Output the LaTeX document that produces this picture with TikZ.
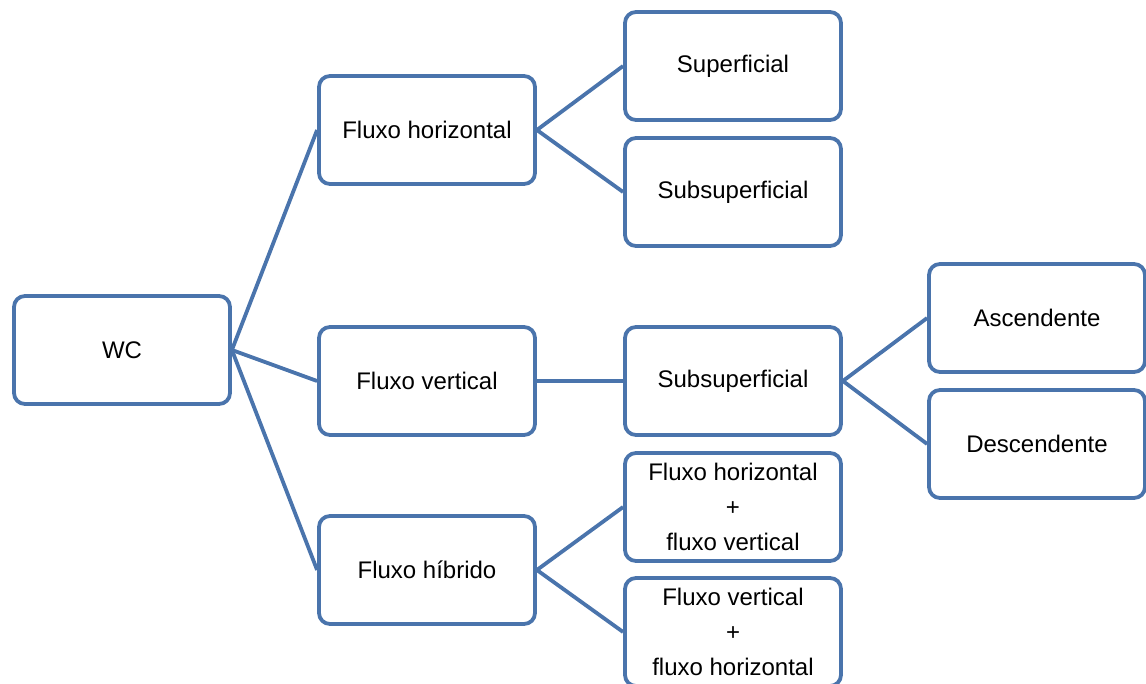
\documentclass[tikz,border=0pt]{standalone}
\usepackage{fontspec}
\setmainfont{Liberation Sans}
\usepackage{xcolor}
\usepackage{tikz}

\definecolor{boxblue}{HTML}{4A74AC}

\begin{document}
\begin{tikzpicture}[x=1pt, y=-1pt,
        box/.style={draw=boxblue, line width=3.8pt, rounded corners=11pt, fill=white, minimum width=216pt, minimum height=108pt, align=center, font=\fontsize{24}{35}\selectfont},
        link/.style={draw=boxblue, line width=3.8pt}
    ]
        \useasboundingbox (0,0) rectangle (1146,684);

        \node[box] (wc) at (122,350) {WC};

        \node[box] (fhor) at (427,130) {Fluxo horizontal};
        \node[box] (fver) at (427,381) {Fluxo vertical};
        \node[box] (fhib) at (427,570) {Fluxo híbrido};

        \node[box] (sup) at (733,66) {Superficial};
        \node[box] (subtop) at (733,192) {Subsuperficial};
        \node[box] (submid) at (733,381) {Subsuperficial};
        \node[box] (hv) at (733,507) {Fluxo horizontal\\+\\fluxo vertical};
        \node[box] (vh) at (733,632) {Fluxo vertical\\+\\fluxo horizontal};

        \node[box] (asc) at (1037,318) {Ascendente};
        \node[box] (desc) at (1037,444) {Descendente};

        \draw[link] (wc.east) -- (fhor.west);
        \draw[link] (wc.east) -- (fver.west);
        \draw[link] (wc.east) -- (fhib.west);

        \draw[link] (fhor.east) -- (sup.west);
        \draw[link] (fhor.east) -- (subtop.west);
        \draw[link] (fver.east) -- (submid.west);
        \draw[link] (fhib.east) -- (hv.west);
        \draw[link] (fhib.east) -- (vh.west);

        \draw[link] (submid.east) -- (asc.west);
        \draw[link] (submid.east) -- (desc.west);
    \end{tikzpicture}
\end{document}
